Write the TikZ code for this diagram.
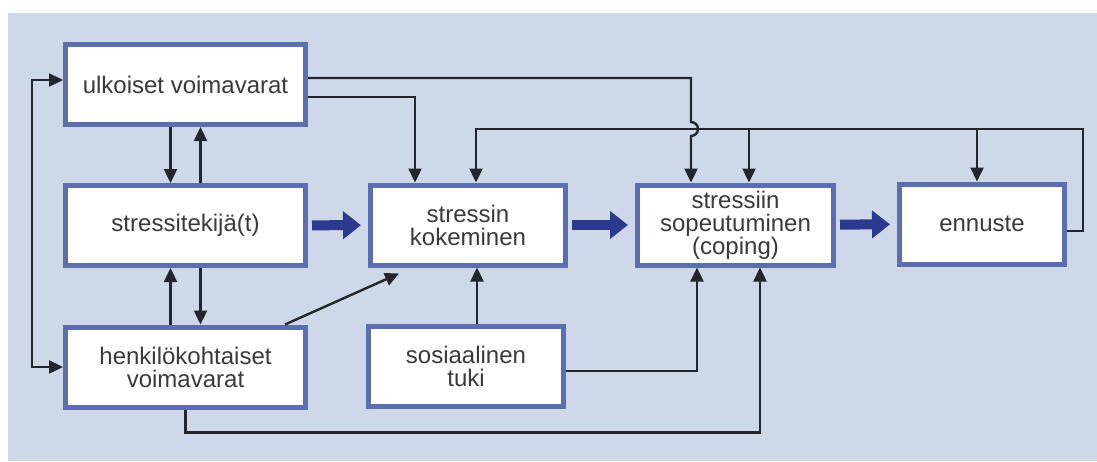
\documentclass[tikz,border=0pt]{standalone}
\usepackage{fontspec}
\setmainfont{Liberation Sans}
\usetikzlibrary{arrows.meta}
\definecolor{bgblue}{HTML}{CED8E8}
\definecolor{boxblue}{HTML}{5B6EAF}
\definecolor{navy}{HTML}{2B3A8F}
\definecolor{linegray}{HTML}{23262E}
\definecolor{textgray}{HTML}{3A3A3A}

\begin{document}
\begin{tikzpicture}[x=0.5pt,y=-0.5pt,
 box/.style={draw=boxblue,fill=white,line width=2.5pt,minimum height=40pt,inner sep=0pt,
   align=center,text=textgray,font=\fontsize{12}{11.5}\selectfont},
 arr/.style={draw=linegray,line width=1.2pt,>={Triangle[length=7pt,width=6.5pt]},->},
 big/.style={draw=navy,line width=5pt,-{Triangle[length=9pt,width=13.5pt]},shorten <=2pt,shorten >=3.5pt}]
 \useasboundingbox (0,0) rectangle (1097,461);
 \fill[bgblue] (8,13) rectangle (1097,461);
 \node[box,minimum width=120pt] (ulk) at (185.5,84.5) {ulkoiset voimavarat};
 \node[box,minimum width=120pt] (stre) at (185.5,225.5) {stressitekijä(t)};
 \node[box,minimum width=120pt] (henk) at (185.5,367) {henkilökohtaiset\\voimavarat};
 \node[box,minimum width=97.5pt] (kok) at (468,225) {stressin\\kokeminen};
 \node[box,minimum width=97.5pt] (sos) at (466,366.5) {sosiaalinen\\tuki};
 \node[box,minimum width=98pt] (sop) at (735.5,225) {stressiin\\sopeutuminen\\(coping)};
 \node[box,minimum width=82.5pt] (enn) at (982,224) {ennuste};
 \coordinate (fb) at (1083,129);

 \draw[big] (stre) -- (kok);
 \draw[big] (kok) -- (sop);
 \draw[big] (sop) -- (enn);

 \draw[arr] ([xshift=-7.5pt]ulk.south) -- ([xshift=-7.5pt]stre.north);
 \draw[arr] ([xshift=7.5pt]stre.north) -- ([xshift=7.5pt]ulk.south);
 \draw[arr] ([xshift=-7.5pt]henk.north) -- ([xshift=-7.5pt]stre.south);
 \draw[arr] ([xshift=7.5pt]stre.south) -- ([xshift=7.5pt]henk.north);
 \draw[arr,<->] ([yshift=2.25pt]ulk.west) -| (32,225) |- (henk.west);

 \draw[arr] ([yshift=3.25pt]ulk.east) -| (691,122) arc[start angle=90,end angle=-90,radius=3.5pt]
   -- ([xshift=-22.25pt]sop.north);
 \draw[arr] ([yshift=-6.25pt]ulk.east) -| ([xshift=-26.5pt]kok.north);
 \draw[arr] ([yshift=-3.5pt]enn.east) -| (fb) -| ([xshift=4pt]kok.north);
 \foreach \n/\d in {sop/6.75pt,enn/-2.5pt}
   \draw[arr] ([xshift=\d]\n.north |- fb) -- ([xshift=\d]\n.north);

 \draw[arr] ([xshift=-11.5pt]henk.north east) -- ([xshift=-34.5pt,yshift=-3pt]kok.south);
 \draw[arr] ([xshift=5.5pt]sos.north) -- ([xshift=5.5pt]sos.north |- kok.south);
 \draw[arr] ([yshift=-2.25pt]sos.east) -| ([xshift=-19.25pt]sop.south);
 \draw[arr] (henk.south) -- ++(0,23) -| ([xshift=12.25pt]sop.south);
\end{tikzpicture}
\end{document}
